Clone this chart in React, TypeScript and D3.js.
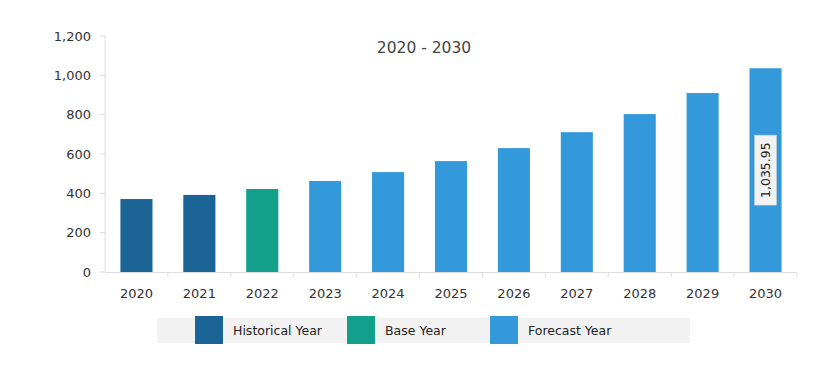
import * as d3 from 'd3';

const years = ['2020', '2021', '2022', '2023', '2024', '2025', '2026', '2027', '2028', '2029', '2030'];
const values = [371, 392, 422, 463, 508, 564, 630, 711, 803, 910, 1035.95];
const kinds = ['hist', 'hist', 'base', 'fc', 'fc', 'fc', 'fc', 'fc', 'fc', 'fc', 'fc'];
const yTicks = [0, 200, 400, 600, 800, 1000, 1200];
const legendItems = [
    { key: 'hist', label: 'Historical Year' },
    { key: 'base', label: 'Base Year' },
    { key: 'fc', label: 'Forecast Year' },
];

const colors: Record<string, string> = {
    hist: '#1a6496',
    base: '#12a08c',
    fc: '#3499db',
};

const font = '"DejaVu Sans", sans-serif';

const App = () => {
    const width = 828;
    const height = 370;
    const left = 105, right = 797, top = 36, bottom = 272;

    const x = d3.scaleBand().domain(years).range([left, right]).paddingInner(0.49).paddingOuter(0.245);
    const y = d3.scaleLinear().domain([0, 1200]).range([bottom, top]);
    const fmt = d3.format(',');

    const last = years.length - 1;
    const lx = (x(years[last]) as number) + x.bandwidth() / 2;
    const ly = (y(values[last]) + y(0)) / 2;

    // legend positions
    const swatchX = [195, 347, 490];

    return (
        <svg width={width} height={height} style={{ position: 'absolute', left: 0, top: 0 }} fontFamily={font}>
            <rect width={width} height={height} fill="#fff" />
            <text x={424} y={53} textAnchor="middle" fontSize={15.5} fill="#444">2020 - 2030</text>

            {/* y axis */}
            <line x1={left} x2={left} y1={top} y2={bottom} stroke="#ddd" />
            {yTicks.map(t => (
                <g key={t} transform={`translate(0,${y(t)})`}>
                    <line x1={left - 5} x2={left} stroke="#ddd" />
                    <text x={91} dy="0.35em" textAnchor="end" fontSize={13} fill="#333">{fmt(t)}</text>
                </g>
            ))}

            {/* bars */}
            {years.map((yr, i) => (
                <rect key={yr} x={x(yr)} y={y(values[i])} width={x.bandwidth()} height={y(0) - y(values[i])}
                    fill={colors[kinds[i]]} />
            ))}

            {/* x axis */}
            <line x1={left} x2={right} y1={bottom + 0.5} y2={bottom + 0.5} stroke="#ddd" />
            {years.map((yr, i) => {
                const bx = left + i * x.step() + x.step();
                return <line key={'t' + yr} x1={bx} x2={bx} y1={bottom} y2={bottom + 5} stroke="#ddd" />;
            })}
            {years.map(yr => (
                <text key={'l' + yr} x={(x(yr) as number) + x.bandwidth() / 2} y={298} textAnchor="middle" fontSize={13} fill="#333">{yr}</text>
            ))}

            {/* value label */}
            <g transform={`translate(${lx},${ly}) rotate(-90)`}>
                <rect x={-35} y={-11} width={70} height={22} fill="#f2f2f2" stroke="#ccc" strokeWidth={0.5} />
                <text x={0} y={0} dy="0.35em" textAnchor="middle" fontSize={12.5} fill="#222">{fmt(values[last])}</text>
            </g>

            {/* legend */}
            <rect x={157} y={318} width={533} height={25} fill="#f2f2f2" />
            {legendItems.map((it, i) => (
                <g key={it.key}>
                    <rect x={swatchX[i]} y={316} width={28} height={28} fill={colors[it.key]} />
                    <text x={swatchX[i] + 38} y={331} dy="0.35em" fontSize={12.5} fill="#222">{it.label}</text>
                </g>
            ))}
        </svg>
    );
};

export default App;
